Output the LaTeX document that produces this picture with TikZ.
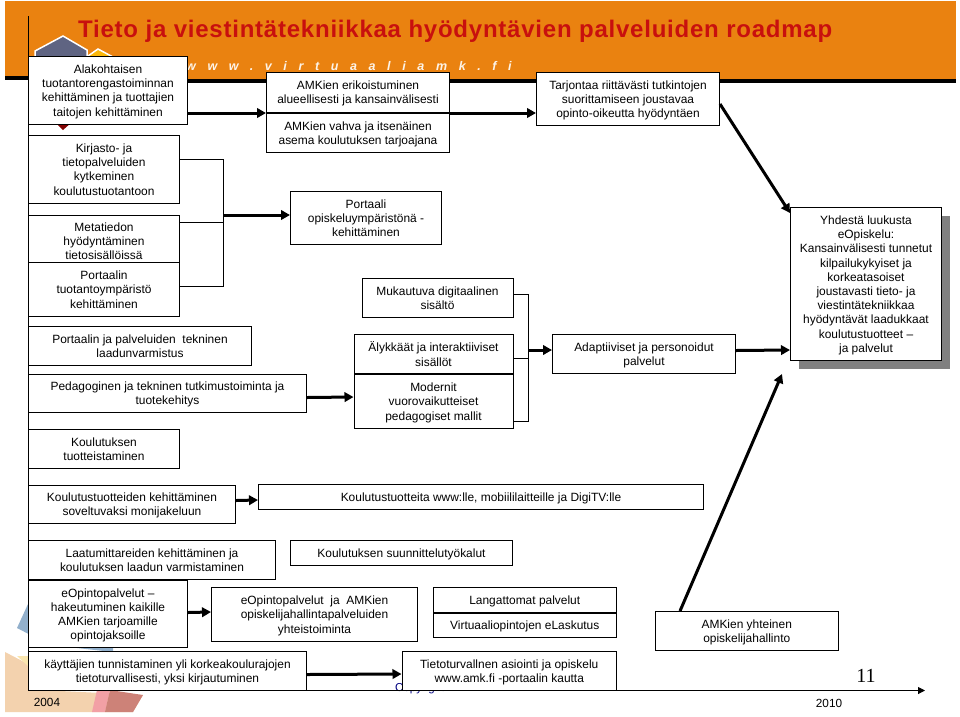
\documentclass[tikz,border=0pt]{standalone}
\usepackage{fontspec}
\setmainfont{Liberation Sans}
\newfontfamily\urlfont[LetterSpace=93]{Liberation Sans}
\newfontfamily\titlefont[LetterSpace=3.2]{Liberation Sans}
\usetikzlibrary{arrows.meta, positioning, shadows}

\definecolor{headorange}{RGB}{234,130,16}
\definecolor{titlered}{RGB}{200,16,14}
\definecolor{shapeblue}{RGB}{146,176,204}
\definecolor{shapeorange}{RGB}{243,210,174}
\definecolor{shapeyellow}{RGB}{250,230,175}
\definecolor{shapepink}{RGB}{242,160,165}
\definecolor{shaperose}{RGB}{205,130,120}
\definecolor{logoblue}{RGB}{95,100,130}

\begin{document}
\begin{tikzpicture}[
    x=1pt, y=-1pt,
    box/.style={draw, fill=white, line width=1pt, align=center, inner sep=0pt, anchor=north west,
        text depth=0pt, font=\fontsize{11.95}{14.2}\selectfont},
    edge/.style={-{Triangle[length=9pt, width=9.5pt]}, line width=3pt},
    bus/.style={line width=.8pt}
]
    \useasboundingbox (0,0) rectangle (960,716);

    % header band
    \fill[headorange] (5,1) rectangle (956,79);
    \fill[black] (5,76) rectangle (28,80);
    \fill[black] (28,79) rectangle (956,83);
    \node[anchor=base west, inner sep=0pt, text=titlered, font=\titlefont\fontsize{24}{26}\selectfont\bfseries] (title) at (78,37) {Tieto ja viestintätekniikkaa hyödyntävien palveluiden roadmap};
    \node[anchor=base west, inner sep=0pt, text=white!90!headorange, font=\urlfont\fontsize{12.5}{14}\selectfont\bfseries\itshape] (url) at (186,70) {www.virtuaaliamk.fi};

    % logo pieces
    \filldraw[fill=yellow!45!orange, draw=white, line width=1.5pt] (98,49) -- (113,57) -- (113,66) -- (88,66) -- (88,56) -- cycle;
    \filldraw[fill=logoblue, draw=white, line width=1.5pt] (63,36) -- (87,50) -- (87,66) -- (35,66) -- (35,51) -- cycle;
    \fill[red!50!black] (55,122) -- (72,122) -- (63,130) -- cycle;

    % corner shapes
    \fill[shapeblue] (28,604) -- (17,628) -- (50,645) -- (113,652) -- (113,630) -- cycle;
    \fill[shapeorange] (5,652) -- (28,664) -- (40,690) -- (143,695) -- (133,712) -- (5,712) -- cycle;
    \fill[shapeyellow] (17,656) -- (28,656) -- (28,666) -- cycle;
    \fill[shapepink] (97,690) -- (110,690) -- (105,712) -- (92,712) -- cycle;
    \fill[shaperose] (110,690) -- (143,695) -- (133,712) -- (105,712) -- cycle;

    % hidden footer line
    \node[anchor=base west, inner sep=0pt, text=blue!50!black, font=\fontsize{11.5}{14}\selectfont] (copyr) at (395,691) {Copyright};

    % time axis
    \coordinate (axisorigin) at (28,690.5);
    \coordinate (axisend) at (925,690.5);
    \coordinate (axistop) at (28,16);
    \draw[line width=1pt] (axistop) -- (axisorigin);
    \draw[-{Triangle[length=7pt, width=7pt]}, line width=1pt] (axisorigin) -- (axisend);

    % left column
    \node[box, minimum width=159pt, minimum height=68pt] (alako) at (28,56) {Alakohtaisen\\tuotantorengastoiminnan\\kehittäminen ja tuottajien\\taitojen kehittäminen};
    \node[box, minimum width=151pt, minimum height=68pt] (kirjasto) at (28,135) {Kirjasto- ja\\tietopalveluiden\\kytkeminen\\koulutustuotantoon};
    \node[box, minimum width=151pt, minimum height=51pt] (metatieto) at (28,215) {Metatiedon\\hyödyntäminen\\tietosisällöissä};
    \node[box, minimum width=151pt, minimum height=54pt] (tuotanto) at (28,262) {Portaalin\\tuotantoympäristö\\kehittäminen};
    \node[box, minimum width=223pt, minimum height=39pt] (laatu) at (28,326) {Portaalin ja palveluiden\ \ tekninen\\laadunvarmistus};
    \node[box, minimum width=278pt, minimum height=38pt] (pedago) at (28,374) {Pedagoginen ja tekninen tutkimustoiminta ja\\tuotekehitys};
    \node[box, minimum width=151pt, minimum height=39pt] (tuotteistus) at (28,429) {Koulutuksen\\tuotteistaminen};
    \node[box, minimum width=207pt, minimum height=38pt] (monijakelu) at (28,485) {Koulutustuotteiden kehittäminen\\soveltuvaksi monijakeluun};
    \node[box, minimum width=247pt, minimum height=39pt] (mittarit) at (28,540) {Laatumittareiden kehittäminen ja\\koulutuksen laadun varmistaminen};
    \node[box, minimum width=159pt, minimum height=67pt] (hakeutuminen) at (28,580) {eOpintopalvelut --\\hakeutuminen kaikille\\AMKien tarjoamille\\opintojaksoille};
    \node[box, minimum width=278pt, minimum height=39pt] (tunnistus) at (28,651) {käyttäjien tunnistaminen yli korkeakoulurajojen\\tietoturvallisesti, yksi kirjautuminen};

    % middle column
    \node[box, minimum width=183pt, minimum height=40pt] (asemaA) at (266,72) {AMKien erikoistuminen\\alueellisesti ja kansainvälisesti};
    \node[box, minimum width=183pt, minimum height=39pt, below=0pt of asemaA] (asemaB) {AMKien vahva ja itsenäinen\\asema koulutuksen tarjoajana};
    \node[box, minimum width=151pt, minimum height=53pt] (portaali) at (290,191) {Portaali\\opiskeluympäristönä -\\kehittäminen};
    \node[box, minimum width=151pt, minimum height=39pt] (mukautuva) at (361.5,278) {Mukautuva digitaalinen\\sisältö};
    \node[box, minimum width=159pt, minimum height=39pt] (alykas) at (353.5,334) {Älykkäät ja interaktiiviset\\sisällöt};
    \node[box, minimum width=159pt, minimum height=54pt, below=0pt of alykas] (moderni) {Modernit\\vuorovaikutteiset\\pedagogiset mallit};
    \node[box, minimum width=445pt, minimum height=25pt] (www) at (258,484) {Koulutustuotteita www:lle, mobiililaitteille ja DigiTV:lle};
    \node[box, minimum width=222pt, minimum height=25pt] (suunnittelu) at (290,540) {Koulutuksen suunnittelutyökalut};
    \node[box, minimum width=206pt, minimum height=54pt] (yhteistoiminta) at (211,587) {eOpintopalvelut\ \ ja\ \ AMKien\\opiskelijahallintapalveluiden\\yhteistoiminta};
    \node[box, minimum width=182.5pt, minimum height=25pt] (langaton) at (433,587) {Langattomat palvelut};
    \node[box, minimum width=182.5pt, minimum height=24pt, below=0pt of langaton] (laskutus) {Virtuaaliopintojen eLaskutus};
    \node[box, minimum width=214.5pt, minimum height=39pt] (asiointi) at (401.5,651) {Tietoturvallnen asiointi ja opiskelu\\www.amk.fi -portaalin kautta};

    % right column
    \node[box, minimum width=183pt, minimum height=53pt] (tarjonta) at (536,72) {Tarjontaa riittävästi tutkintojen\\suorittamiseen joustavaa\\opinto-oikeutta hyödyntäen};
    \node[box, minimum width=183pt, minimum height=39pt] (adaptiivi) at (552,334) {Adaptiiviset ja personoidut\\palvelut};
    \node[box, minimum width=182.5pt, minimum height=39pt] (opiskelijat) at (655,611) {AMKien yhteinen\\opiskelijahallinto};
    \node[box, minimum width=151pt, minimum height=153pt, drop shadow={shadow xshift=8pt, shadow yshift=-8pt, fill=black!50, opacity=1}] (eopiskelu) at (790,207) {Yhdestä luukusta\\eOpiskelu:\\Kansainvälisesti tunnetut\\kilpailukykyiset ja\\korkeatasoiset\\joustavasti tieto- ja\\viestintätekniikkaa\\hyödyntävät laadukkaat\\koulutustuotteet --\\ja palvelut};

    % years and page number
    \node[inner sep=0pt, font=\fontsize{11.8}{14}\selectfont] (y2004) at (47,702) {2004};
    \node[inner sep=0pt, font=\fontsize{11.8}{14}\selectfont] (y2010) at (829,703) {2010};
    \node[inner sep=0pt, font=\fontsize{20}{24}\selectfont\rmfamily] (pagenum) at (866,676) {\fontspec{Liberation Serif}11};

    % collecting lines
    \coordinate (busAtop) at (223.5,159);
    \coordinate (busAmeta) at (223.5,222);
    \coordinate (busAmid) at (223.5,215);
    \coordinate (busAbot) at (223.5,286);
    \draw[bus] (kirjasto.east |- busAtop) -- (busAtop) -- (busAbot) -- (tuotanto.east |- busAbot);
    \draw[bus] (metatieto.east |- busAmeta) -- (busAmeta);
    \coordinate (busBtop) at (528,294);
    \coordinate (busBmid) at (528,358);
    \coordinate (busBout) at (528,350);
    \coordinate (busBbot) at (528,421);
    \draw[bus] (mukautuva.east |- busBtop) -- (busBtop) -- (busBbot) -- (moderni.east |- busBbot);
    \draw[bus] (alykas.east |- busBmid) -- (busBmid);

    % arrows
    \draw[edge] (alako.east |- asemaA.south) -- (asemaA.south west);
    \draw[edge] (asemaA.south east) -- (tarjonta.west |- asemaA.south);
    \draw[edge] (busAmid) -- (portaali.west |- busAmid);
    \draw[edge] (busBout) -- (adaptiivi.west |- busBout);
    \draw[edge] (pedago.east) ++(0,4) -- (moderni.west |- 0,397);
    \draw[edge] (adaptiivi.east) ++(0,-3.5) -- (eopiskelu.west |- 0,350);
    \draw[edge] ([yshift=-5pt]tarjonta.east) -- ([yshift=-6pt]eopiskelu.north west);
    \draw[edge] (opiskelijat.north west) ++(25,0) -- (782,374);
    \draw[edge] (monijakelu.east) ++(0,-4) -- (www.west |- 0,500);
    \draw[edge] (hakeutuminen.east) ++(0,-1.5) -- (yhteistoiminta.west |- 0,612);
    \draw[edge] (tunnistus.east) ++(0,3.5) -- (asiointi.west |- 0,674);
\end{tikzpicture}
\end{document}
